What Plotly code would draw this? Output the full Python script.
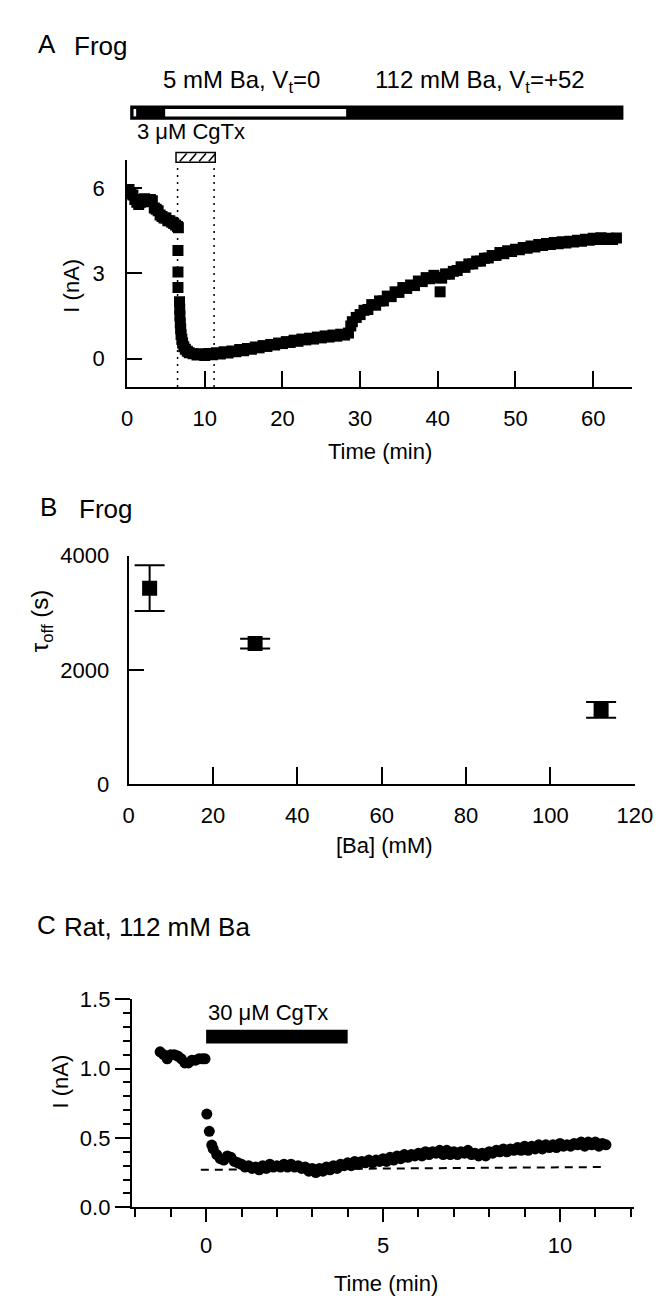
import plotly.graph_objects as go

W, H = 668, 1302
FONT = "Liberation Sans, Arial, Helvetica, sans-serif"

# ---------------- Panel A data (Frog) ----------------
time_a = [0, 0.25, 0.5, 0.75, 1.0, 1.25, 1.5, 1.75, 2.0, 2.25, 2.5, 2.75, 3.0, 3.25, 3.5, 3.75,
          4.0, 4.25, 4.5, 4.75, 5.0, 5.25, 5.5, 5.75, 6.0, 6.25, 6.5, 6.6,
          6.55, 6.55, 6.55,
          6.75, 6.78, 6.8, 6.85, 6.9, 6.95, 7.05, 7.15, 7.3, 7.5, 7.75, 8.0, 8.5, 9.0, 9.5,
          10, 10.5, 11, 11.5, 12, 12.5, 13, 13.5, 14, 14.5, 15, 15.5, 16, 16.5, 17, 17.5,
          18, 18.5, 19, 19.5, 20, 20.5, 21, 21.5, 22, 22.5, 23, 23.5, 24, 24.5, 25, 25.5,
          26, 26.5, 27, 27.5, 28, 28.5,
          28.8, 29.0, 29.5, 30, 30.5, 31, 31.5, 32, 32.5, 33, 33.5, 34, 34.5, 35, 35.5,
          36, 36.5, 37, 37.5, 38, 38.5, 39, 39.5, 40, 40.3, 40.5, 41, 41.5, 42, 42.5,
          43, 43.5, 44, 44.5, 45, 45.5, 46, 46.5, 47, 47.5, 48, 48.5, 49, 49.5, 50,
          50.5, 51, 51.5, 52, 52.5, 53, 53.5, 54, 54.5, 55, 55.5, 56, 56.5, 57, 57.5,
          58, 58.5, 59, 59.5, 60, 60.5, 61, 61.5, 62, 62.5, 63]
current_a = [5.9, 5.95, 5.8, 5.75, 5.6, 5.5, 5.42, 5.5, 5.55, 5.62, 5.6, 5.52, 5.6, 5.55,
             5.3, 5.25, 5.2, 5.05, 5.0, 4.95, 4.95, 4.85, 4.85, 4.8, 4.75, 4.7, 4.65, 4.6,
             3.8, 3.05, 2.5,
             2.0, 1.75, 1.5, 1.25, 1.05, 0.85, 0.68, 0.55, 0.42, 0.33, 0.26, 0.21, 0.17, 0.13, 0.17,
             0.11, 0.18, 0.14, 0.21, 0.16, 0.24, 0.2, 0.27, 0.24, 0.32, 0.28, 0.36, 0.33, 0.41,
             0.38, 0.46, 0.43, 0.5, 0.48, 0.55, 0.53, 0.6, 0.57, 0.65, 0.61, 0.69, 0.66, 0.72,
             0.69, 0.76, 0.73, 0.8, 0.76, 0.83, 0.79, 0.86, 0.83, 0.9,
             1.15, 1.3, 1.45, 1.55, 1.7, 1.73, 1.9, 1.88, 2.03, 2.03, 2.2, 2.18, 2.35, 2.33, 2.5,
             2.47, 2.59, 2.57, 2.73, 2.71, 2.85, 2.81, 2.93, 2.86, 2.35, 2.83, 2.98, 2.97, 3.07, 3.1,
             3.23, 3.21, 3.33, 3.33, 3.43, 3.43, 3.53, 3.54, 3.63, 3.63, 3.73, 3.69, 3.79, 3.77, 3.85,
             3.83, 3.91, 3.88, 3.96, 3.93, 4.01, 3.98, 4.05, 4.01, 4.08, 4.04, 4.11, 4.07, 4.13,
             4.1, 4.16, 4.13, 4.2, 4.16, 4.23, 4.19, 4.25, 4.19, 4.23, 4.19, 4.24]
ticks_a_x = [0, 10, 20, 30, 40, 50, 60]
ticks_a_y = [0, 3, 6]
bath_bar_start, bath_bar_end = 0.4, 63.9      # min
low_ba_start, low_ba_end = 4.9, 28.2          # 5 mM Ba period (white)
slit_start, slit_end = 0.83, 1.17
cgtx_a_box = (6.3, 11.35)
cgtx_a_lines = (6.5, 11.2)

# ---------------- Panel B data ----------------
ba_mM = [5, 30, 112]
tau_off = [3430, 2460, 1302]
tau_err = [400, 85, 137]
ticks_b_x = [0, 20, 40, 60, 80, 100, 120]
ticks_b_y = [0, 2000, 4000]

# ---------------- Panel C data (Rat) ----------------
time_c = [-1.3, -1.2, -1.1, -1.0, -0.9, -0.8, -0.7, -0.6, -0.5, -0.4, -0.3, -0.2, -0.1, -0.03,
          0.02, 0.09, 0.16,
          0.2, 0.3, 0.4, 0.5, 0.6, 0.7, 0.8, 0.9, 1.0, 1.1, 1.2, 1.3, 1.4, 1.5, 1.6, 1.7, 1.8, 1.9,
          2.0, 2.1, 2.2, 2.3, 2.4, 2.5, 2.6, 2.7, 2.8, 2.9, 3.0, 3.1, 3.2, 3.3, 3.4, 3.5, 3.6, 3.7,
          3.8, 3.9, 4.0, 4.1, 4.2, 4.3, 4.4, 4.5, 4.6, 4.7, 4.8, 4.9, 5.0, 5.1, 5.2, 5.3, 5.4, 5.5,
          5.6, 5.7, 5.8, 5.9, 6.0, 6.1, 6.2, 6.3, 6.4, 6.5, 6.6, 6.7, 6.8, 6.9, 7.0, 7.1, 7.2, 7.3,
          7.4, 7.5, 7.6, 7.7, 7.8, 7.9, 8.0, 8.1, 8.2, 8.3, 8.4, 8.5, 8.6, 8.7, 8.8, 8.9, 9.0, 9.1,
          9.2, 9.3, 9.4, 9.5, 9.6, 9.7, 9.8, 9.9, 10.0, 10.1, 10.2, 10.3, 10.4, 10.5, 10.6, 10.7,
          10.8, 10.9, 11.0, 11.1, 11.2, 11.3]
current_c = [1.12, 1.10, 1.07, 1.10, 1.10, 1.09, 1.07, 1.04, 1.04, 1.06, 1.06, 1.07, 1.07, 1.07,
             0.672, 0.547, 0.448,
             0.42, 0.38, 0.35, 0.34, 0.37, 0.36, 0.33, 0.32, 0.31, 0.29, 0.30, 0.28, 0.29, 0.27,
             0.30, 0.28, 0.31, 0.29, 0.30, 0.29, 0.31, 0.29, 0.31, 0.29, 0.30, 0.28, 0.29, 0.26,
             0.28, 0.25, 0.28, 0.26, 0.29, 0.27, 0.30, 0.28, 0.31, 0.30, 0.32, 0.30, 0.33, 0.31,
             0.33, 0.32, 0.34, 0.32, 0.34, 0.33, 0.35, 0.33, 0.36, 0.34, 0.37, 0.35, 0.38, 0.36,
             0.38, 0.37, 0.39, 0.37, 0.40, 0.38, 0.40, 0.39, 0.41, 0.38, 0.41, 0.38, 0.40, 0.38,
             0.40, 0.39, 0.41, 0.38, 0.39, 0.37, 0.39, 0.37, 0.40, 0.39, 0.41, 0.40, 0.42, 0.40,
             0.42, 0.41, 0.43, 0.41, 0.44, 0.41, 0.44, 0.42, 0.45, 0.42, 0.45, 0.43, 0.45, 0.43,
             0.46, 0.44, 0.45, 0.44, 0.46, 0.45, 0.47, 0.44, 0.47, 0.45, 0.47, 0.44, 0.46, 0.45]
baseline_c_t = [-0.15, 11.2]
baseline_c_i = [0.27, 0.29]
cgtx_c = (0, 4)
cgtx_c_level = (1.18, 1.28)
ticks_c_x = [0, 5, 10]
ticks_c_y = [0.0, 0.5, 1.0, 1.5]


def px(x):
    return x / W


def py(y):
    return 1 - y / H


fig = go.Figure()

fig.add_trace(go.Scatter(x=time_a, y=current_a, mode="markers",
                         marker=dict(symbol="square", size=11, color="black", line=dict(width=0)),
                         xaxis="x", yaxis="y", showlegend=False))

fig.add_trace(go.Scatter(x=ba_mM, y=tau_off, mode="markers",
                         marker=dict(symbol="square", size=15, color="black", line=dict(width=0)),
                         error_y=dict(type="data", array=tau_err, visible=True, color="black",
                                      thickness=2, width=15),
                         xaxis="x2", yaxis="y2", showlegend=False))

fig.add_trace(go.Scatter(x=baseline_c_t, y=baseline_c_i, mode="lines",
                         line=dict(color="black", width=2, dash="8px,6px"),
                         xaxis="x3", yaxis="y3", showlegend=False))
fig.add_trace(go.Scatter(x=time_c, y=current_c, mode="markers",
                         marker=dict(symbol="circle", size=11, color="black", line=dict(width=0)),
                         xaxis="x3", yaxis="y3", showlegend=False))

axis_common = dict(showline=True, linecolor="black", linewidth=2, showgrid=False, zeroline=False,
                   tickcolor="black", tickwidth=2, tickfont=dict(family=FONT, size=22, color="black"),
                   fixedrange=True)

fig.update_layout(
    xaxis=dict(axis_common, domain=[px(117.3), px(641)], range=[0, 65], anchor="y",
               tickmode="array", tickvals=ticks_a_x, ticks="inside", ticklen=16,
               ticklabelstandoff=10),
    yaxis=dict(axis_common, domain=[py(374.3), py(142.3)], range=[-1, 7], anchor="x",
               tickmode="array", tickvals=ticks_a_y, ticks="inside", ticklen=15,
               ticklabelstandoff=16),
    xaxis2=dict(axis_common, domain=[px(118.8), px(644)], range=[0, 120], anchor="y2",
                tickmode="array", tickvals=ticks_b_x, ticks="inside", ticklen=17,
                ticklabelstandoff=10),
    yaxis2=dict(axis_common, domain=[py(779.3), py(546)], range=[0, 4000], anchor="x2",
                tickmode="array", tickvals=ticks_b_y, ticks="inside", ticklen=15,
                ticklabelstandoff=13),
    xaxis3=dict(axis_common, domain=[px(122.2), px(643.4)], range=[-2.1, 12.1], anchor="y3",
                tickmode="array", tickvals=ticks_c_x, ticks="outside", ticklen=13,
                ticklabelstandoff=4,
                minor=dict(tickmode="linear", tick0=0, dtick=1, ticks="outside", ticklen=8,
                           tickwidth=2, tickcolor="black")),
    yaxis3=dict(axis_common, domain=[py(1210.5), py(998.3)], range=[0, 1.5], anchor="x3",
                tickmode="array", tickvals=ticks_c_y, tickformat=".1f", ticks="outside",
                ticklen=15, ticklabelstandoff=0,
                minor=dict(tickmode="linear", tick0=0, dtick=0.1, ticks="outside", ticklen=7,
                           tickwidth=2, tickcolor="black")),
)

shapes = []
shapes.append(dict(type="rect", xref="x", yref="paper", x0=bath_bar_start, x1=bath_bar_end,
                   y0=py(101.7), y1=py(87.3), fillcolor="black", line=dict(width=0)))
shapes.append(dict(type="rect", xref="x", yref="paper", x0=low_ba_start, x1=low_ba_end,
                   y0=py(98.3), y1=py(90.7), fillcolor="white", line=dict(width=0)))
shapes.append(dict(type="rect", xref="x", yref="paper", x0=slit_start, x1=slit_end,
                   y0=py(98.3), y1=py(90.7), fillcolor="white", line=dict(width=0)))
shapes.append(dict(type="rect", xref="x", yref="paper", x0=cgtx_a_box[0], x1=cgtx_a_box[1],
                   y0=py(145), y1=py(135), fillcolor="white", line=dict(color="black", width=1.5)))
pxmin = (641 - 117.3) / 65.0
for k in range(4):
    xs = cgtx_a_box[0] + (4 + 10 * k) / pxmin
    shapes.append(dict(type="line", xref="x", yref="paper", x0=xs, x1=xs + 7 / pxmin,
                       y0=py(144), y1=py(136), line=dict(color="black", width=1.5)))
for t in cgtx_a_lines:
    shapes.append(dict(type="line", xref="x", yref="paper", x0=t, x1=t,
                       y0=py(374.3), y1=py(145), line=dict(color="black", width=1.5, dash="2px,5px")))
shapes.append(dict(type="rect", xref="x3", yref="y3", x0=cgtx_c[0], x1=cgtx_c[1],
                   y0=cgtx_c_level[0], y1=cgtx_c_level[1], fillcolor="black", line=dict(width=0)))


def ann(text, x, y, size=22, xanchor="center", yanchor="middle", angle=0):
    return dict(text=text, x=px(x), y=py(y), xref="paper", yref="paper", showarrow=False,
                xanchor=xanchor, yanchor=yanchor, textangle=angle,
                font=dict(family=FONT, size=size, color="black"))


annotations = [
    ann("A", 23, 24, 26, "left"), ann("Frog", 60, 26, 26, "left"),
    ann("5 mM Ba, V<sub>t</sub>=0", 236, 63, 24),
    ann("112 mM Ba, V<sub>t</sub>=+52", 483, 63, 24),
    ann("3 \u03bcM CgTx", 125, 114, 22, "left"),
    ann("I (nA)", 60, 271, 22, angle=-90),
    ann("Time (min)", 380, 440, 22),
    ann("B", 25, 497, 26, "left"), ann("Frog", 65, 499, 26, "left"),
    ann("\u03c4<sub>off</sub> (s)", 28, 612, 24, angle=-90),
    ann("[Ba] (mM)", 384, 842, 22),
    ann("C", 22, 923, 26, "left"), ann("Rat, 112 mM Ba", 50, 925, 26, "left"),
    ann("30 \u03bcM CgTx", 199, 1012, 22, "left"),
    ann("I (nA)", 48, 1082, 22, angle=-90),
    ann("Time (min)", 386, 1288, 22),
]

fig.update_layout(width=W, height=H, margin=dict(l=0, r=0, t=0, b=0), autosize=False,
                  paper_bgcolor="white", plot_bgcolor="white", showlegend=False,
                  shapes=shapes, annotations=annotations,
                  font=dict(family=FONT, color="black"))

fig.write_html("out.html")
